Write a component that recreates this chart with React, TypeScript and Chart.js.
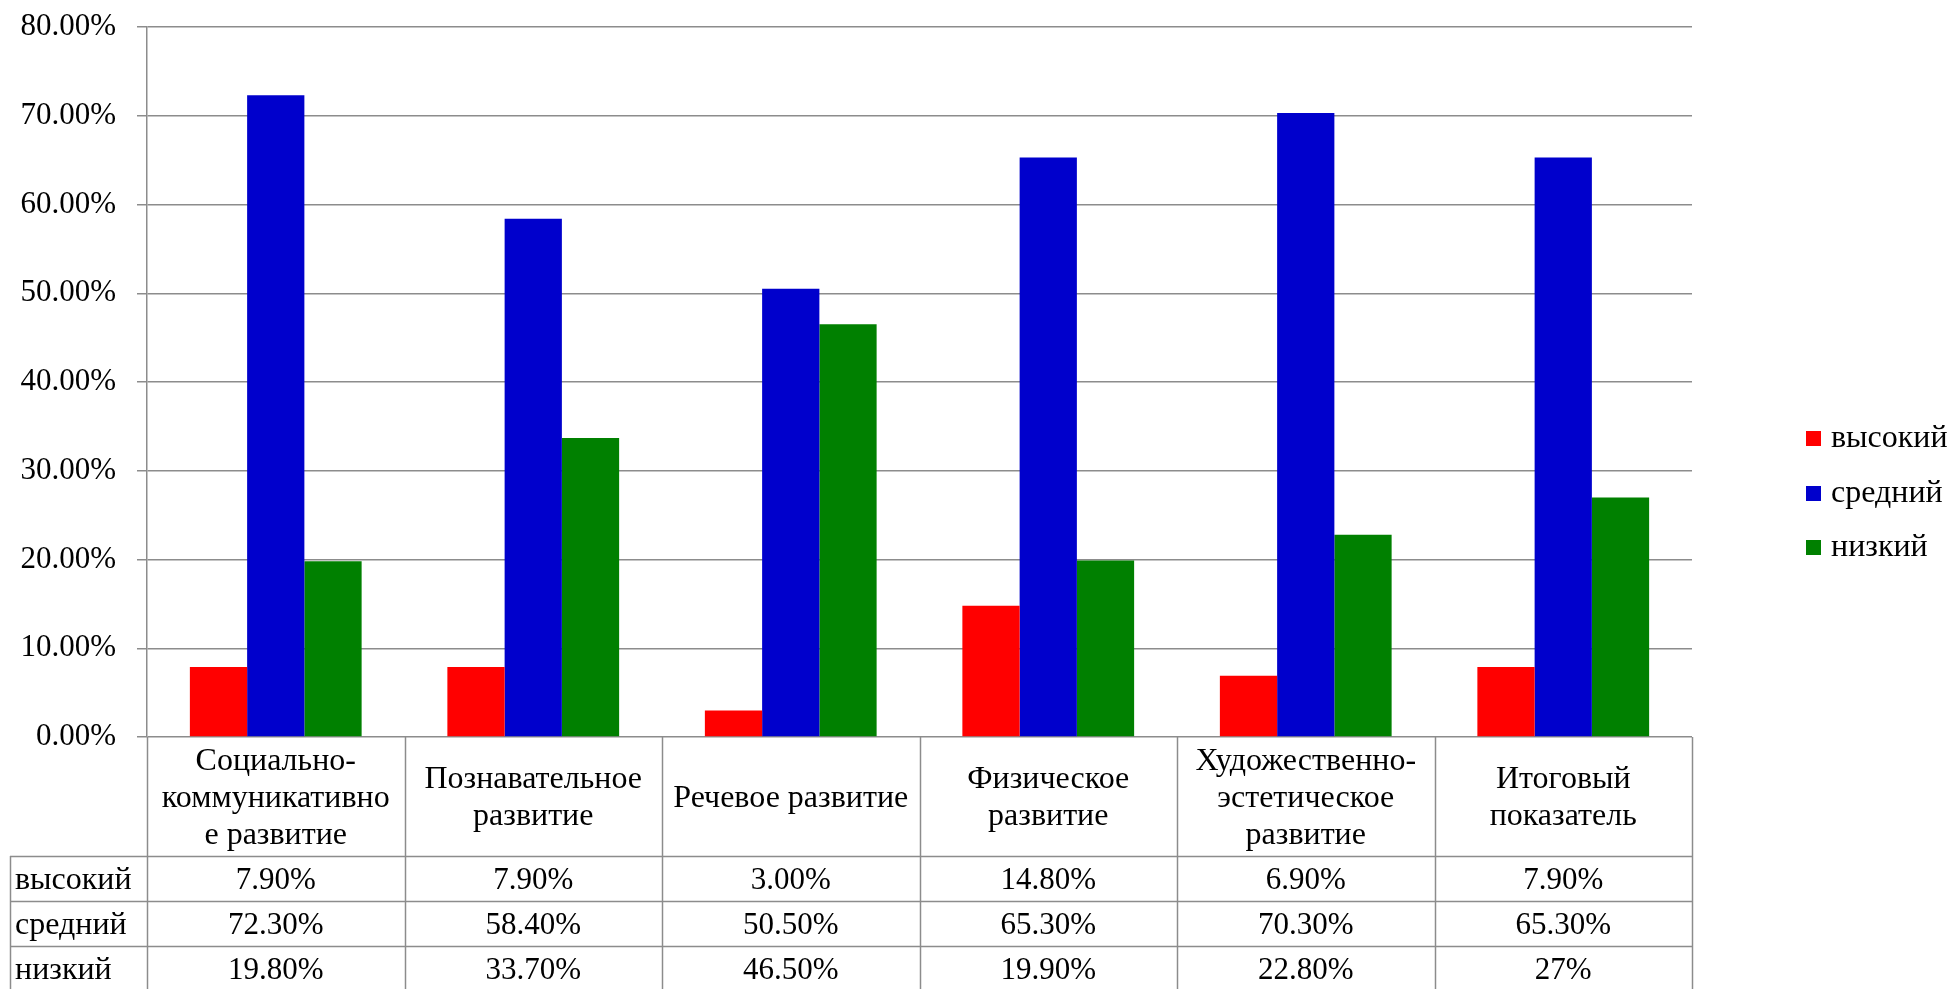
import React, { useEffect, useRef } from "react";
import { Chart, registerables } from "chart.js";

Chart.register(...registerables);

const categories: string[][] = [
  ["Социально-", "коммуникативно", "е развитие"],
  ["Познавательное", "развитие"],
  ["Речевое развитие"],
  ["Физическое", "развитие"],
  ["Художественно-", "эстетическое", "развитие"],
  ["Итоговый", "показатель"],
];

const seriesNames = ["высокий", "средний", "низкий"];
const seriesColors = ["#FF0000", "#0000CC", "#008000"];

const highValues = [7.9, 7.9, 3.0, 14.8, 6.9, 7.9];
const midValues = [72.3, 58.4, 50.5, 65.3, 70.3, 65.3];
const lowValues = [19.8, 33.7, 46.5, 19.9, 22.8, 27];

const highLabels = ["7.90%", "7.90%", "3.00%", "14.80%", "6.90%", "7.90%"];
const midLabels = ["72.30%", "58.40%", "50.50%", "65.30%", "70.30%", "65.30%"];
const lowLabels = ["19.80%", "33.70%", "46.50%", "19.90%", "22.80%", "27%"];

const yTicksMin = 0;
const yTicksMax = 80;
const yTicksStep = 10;

const FONT = "'Liberation Serif', 'Times New Roman', serif";
const TEXT_SIZE = 32;
const NUM_SIZE = 31;
const GRID = "#8c8c8c";

const tablePlugin = {
  id: "dataTableAndLegend",
  afterDraw(chart: any) {
    const ctx: CanvasRenderingContext2D = chart.ctx;
    const { left, right, bottom } = chart.chartArea;
    const H = chart.height;
    const n = categories.length;
    const cw = (right - left) / n;
    const catBottom = bottom + 119;
    const rowH = 45;
    const tableLeft = 10;
    const rowsText = [highLabels, midLabels, lowLabels];

    ctx.save();
    ctx.strokeStyle = GRID;
    ctx.lineWidth = 1.5;

    for (let i = 0; i <= n; i++) {
      const x = Math.round(left + i * cw) + 0.5;
      ctx.beginPath();
      ctx.moveTo(x, bottom);
      ctx.lineTo(x, H + 2);
      ctx.stroke();
    }
    ctx.beginPath();
    ctx.moveTo(tableLeft + 0.5, catBottom);
    ctx.lineTo(tableLeft + 0.5, H + 2);
    ctx.stroke();
    for (let r = 0; r <= 3; r++) {
      const y = Math.round(catBottom + r * rowH) + 0.5;
      ctx.beginPath();
      ctx.moveTo(tableLeft, y);
      ctx.lineTo(right, y);
      ctx.stroke();
    }

    ctx.fillStyle = "#000";
    ctx.textBaseline = "middle";

    ctx.font = `${TEXT_SIZE}px ${FONT}`;
    ctx.textAlign = "center";
    const lineH = 37;
    const catMid = (bottom + catBottom) / 2 + 2;
    categories.forEach((lines, i) => {
      const cx = chart.scales.x.getPixelForValue(i);
      const startY = catMid - ((lines.length - 1) * lineH) / 2;
      lines.forEach((ln, k) => ctx.fillText(ln, cx, startY + k * lineH));
    });

    rowsText.forEach((row, r) => {
      const cy = catBottom + r * rowH + rowH / 2 + 2;
      ctx.font = `${TEXT_SIZE}px ${FONT}`;
      ctx.textAlign = "left";
      ctx.fillText(seriesNames[r], tableLeft + 5, cy);
      ctx.font = `${NUM_SIZE}px ${FONT}`;
      ctx.textAlign = "center";
      row.forEach((t, i) => {
        const cx = chart.scales.x.getPixelForValue(i);
        ctx.fillText(t, cx, cy);
      });
    });

    ctx.font = `${TEXT_SIZE}px ${FONT}`;
    const lx = 1806;
    const ly = [438, 493, 547];
    seriesNames.forEach((name, i) => {
      ctx.fillStyle = seriesColors[i];
      ctx.fillRect(lx, ly[i] - 7, 15, 15);
      ctx.fillStyle = "#000";
      ctx.textAlign = "left";
      ctx.fillText(name, lx + 25, ly[i] + 1);
    });
    ctx.restore();
  },
};

export default function App() {
  const ref = useRef<HTMLCanvasElement | null>(null);

  useEffect(() => {
    document.body.style.margin = "0";
    if (!ref.current) return;
    const chart = new Chart(ref.current, {
      type: "bar",
      data: {
        labels: categories.map((c) => c.join(" ")),
        datasets: [
          { label: seriesNames[0], data: highValues, backgroundColor: seriesColors[0] },
          { label: seriesNames[1], data: midValues, backgroundColor: seriesColors[1] },
          { label: seriesNames[2], data: lowValues, backgroundColor: seriesColors[2] },
        ],
      },
      options: {
        animation: false,
        responsive: true,
        maintainAspectRatio: false,
        devicePixelRatio: 1,
        layout: { autoPadding: false, padding: { left: 0, right: 259, top: 27, bottom: 0 } },
        datasets: {
          bar: { categoryPercentage: 0.667, barPercentage: 1, borderWidth: 0 },
        },
        plugins: {
          legend: { display: false },
          tooltip: { enabled: false },
        },
        scales: {
          x: {
            grid: { display: false },
            border: { display: false },
            ticks: { display: false },
            afterFit: (s: any) => {
              s.height = 252;
              s.paddingLeft = 0;
              s.paddingRight = 0;
            },
          },
          y: {
            min: yTicksMin,
            max: yTicksMax,
            ticks: {
              stepSize: yTicksStep,
              padding: 21,
              color: "#000",
              font: { family: FONT, size: NUM_SIZE },
              callback: (v: any) => Number(v).toFixed(2) + "%",
            },
            grid: { color: GRID, lineWidth: 1.5, tickLength: 10, drawTicks: true },
            border: { color: GRID, width: 1.5 },
            afterFit: (s: any) => {
              s.width = 147;
              s.paddingTop = 0;
              s.paddingBottom = 0;
            },
          },
        },
      },
      plugins: [tablePlugin],
    });
    return () => chart.destroy();
  }, []);

  return (
    <div style={{ position: "fixed", left: 0, top: 0, width: 1951, height: 989, background: "#fff" }}>
      <canvas ref={ref} />
    </div>
  );
}
